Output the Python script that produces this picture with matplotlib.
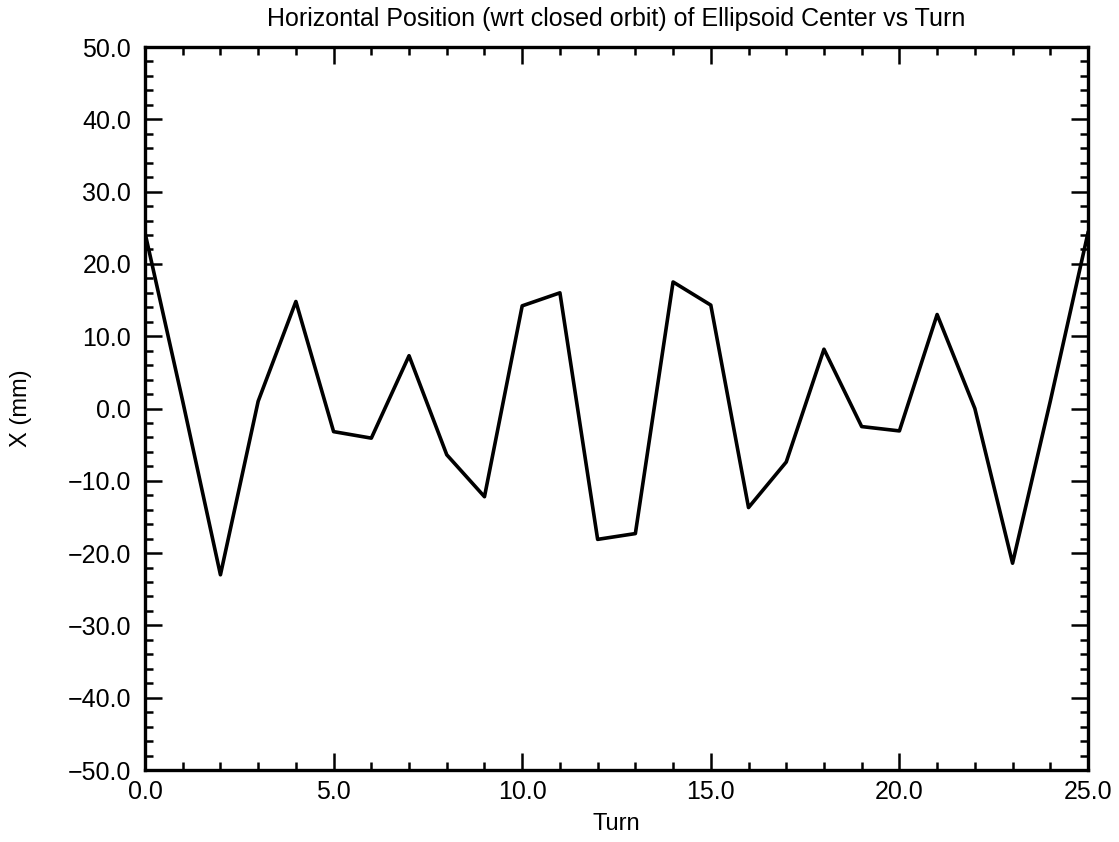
import numpy as np
import matplotlib.pyplot as plt
from matplotlib.ticker import MultipleLocator, FuncFormatter

plt.rcParams['font.family'] = ['Liberation Sans', 'DejaVu Sans']

turn = np.arange(0, 26)
xpos = [24.3, 1.0, -23.0, 1.0, 14.8, -3.2, -4.1, 7.3, -6.4, -12.2,
        14.2, 16.0, -18.1, -17.3, 17.5, 14.3, -13.7, -7.4, 8.2, -2.5,
        -3.1, 13.0, 0.0, -21.4, 1.0, 24.3]


def fmt(v, pos):
    return ('%.1f' % v).replace('-', '\u2212')


fig = plt.figure(figsize=(11.19, 8.42), dpi=100)
ax = fig.add_axes([145/1119, 1 - 770/842, (1088-145)/1119, (770-47)/842])
ax.plot(turn, xpos, color='black', lw=2.6)

ax.set_xlim(0, 25)
ax.set_ylim(-50, 50)
ax.xaxis.set_major_locator(MultipleLocator(5))
ax.xaxis.set_minor_locator(MultipleLocator(1))
ax.yaxis.set_major_locator(MultipleLocator(10))
ax.yaxis.set_minor_locator(MultipleLocator(2))
ax.xaxis.set_major_formatter(FuncFormatter(fmt))
ax.yaxis.set_major_formatter(FuncFormatter(fmt))
ax.tick_params(which='both', direction='in', top=True, right=True, width=1.8,
               labelsize=18)
ax.tick_params(axis='x', pad=7)
ax.tick_params(axis='y', pad=10)
ax.tick_params(which='major', length=12)
ax.tick_params(which='minor', length=6)
for s in ax.spines.values():
    s.set_linewidth(2.4)

ax.set_xlabel('Turn', fontsize=17)
ax.set_ylabel('X (mm)', fontsize=17)
ax.xaxis.set_label_coords(0.5, -0.06)
ax.yaxis.set_label_coords(-0.12, 0.5)
ax.set_title('Horizontal Position (wrt closed orbit) of Ellipsoid Center vs Turn',
             fontsize=18, pad=15)

fig.savefig('out.png', dpi=100)
